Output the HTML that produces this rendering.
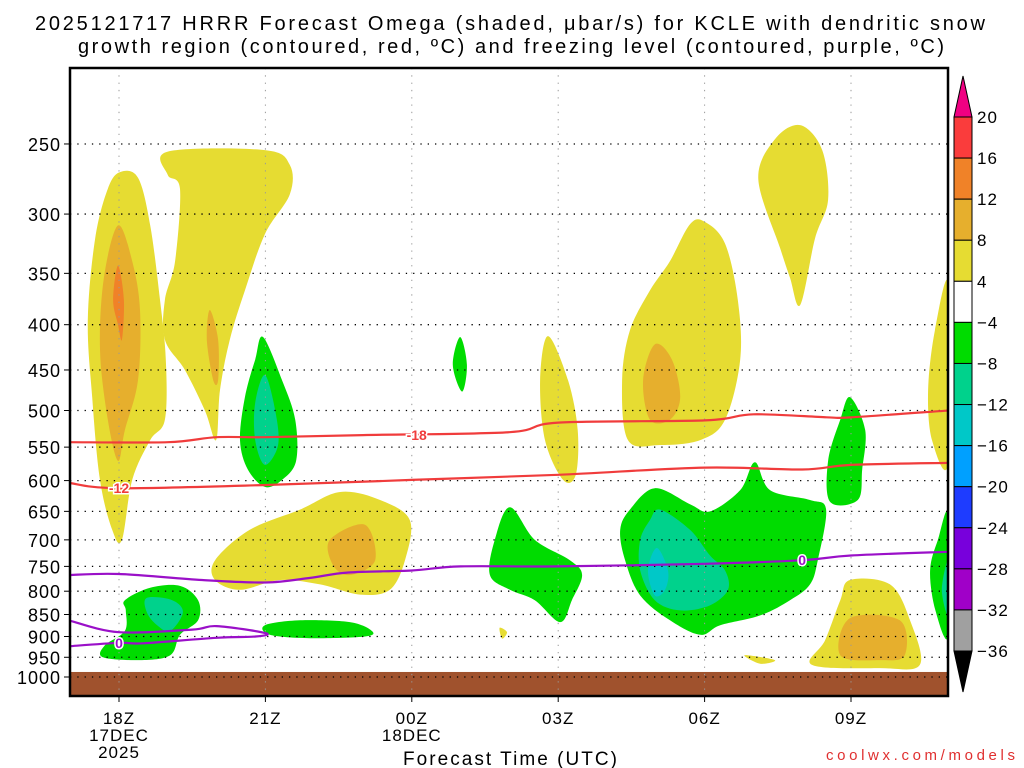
<!DOCTYPE html>
<html><head><meta charset="utf-8"><style>
html,body{margin:0;padding:0;background:#fff;}
svg{display:block;font-family:"Liberation Sans","DejaVu Sans",sans-serif;}
</style></head><body>
<svg id="chart" width="1024" height="768" viewBox="0 0 1024 768" xmlns="http://www.w3.org/2000/svg">
<g font-size="20" fill="#000" text-anchor="middle">
<text x="510" y="30" textLength="950" lengthAdjust="spacing">2025121717 HRRR Forecast Omega (shaded, μbar/s) for KCLE with dendritic snow</text>
<text x="511" y="53" textLength="866" lengthAdjust="spacing">growth region (contoured, red, ºC) and freezing level (contoured, purple, ºC)</text>
</g>
<g id="plot"></g>
<g id="axes"></g>
<g id="cbar"></g>
<text x="510" y="765" text-anchor="middle" font-size="19" textLength="214" lengthAdjust="spacing">Forecast Time (UTC)</text>
<text x="1015" y="760" text-anchor="end" font-size="15" fill="#e03030" textLength="189" lengthAdjust="spacing">coolwx.com/models</text>
</svg>
<script>
// ---- data ----
const pressureTicks = [250,300,350,400,450,500,550,600,650,700,750,800,850,900,950,1000];
const timeTickHours = [1,4,7,10,13,16];
const timeTickLabels = [["18Z","17DEC","2025"],["21Z"],["00Z","18DEC"],["03Z"],["06Z"],["09Z"]];
const groundPressure = 987;
const fillColors = {y:"#e6dc32",g:"#e6af2d",o:"#f08228",gr:"#00dc00",tg:"#00d28c",cy:"#00c8c8"};
const omegaRegions = [
 ["y",[[1.02,269],[1.39,273],[1.64,309],[1.84,375],[1.96,438],[1.94,512],[1.64,540],[1.27,599],[1.06,700],[0.86,682],[0.61,599],[0.45,483],[0.36,395],[0.51,320],[0.77,281]]],
 ["y",[[2.0,255],[3.99,254],[4.5,264],[4.5,285],[3.99,316],[3.58,366],[3.27,416],[3.07,474],[2.99,540],[2.76,500],[2.35,450],[1.94,416],[1.94,375],[2.15,339],[2.25,281],[2.0,271]]],
 ["g",[[0.98,309],[1.27,339],[1.43,385],[1.39,462],[1.12,526],[0.98,570],[0.77,512],[0.61,427],[0.69,354]]],
 ["o",[[0.98,343],[1.1,375],[1.06,416],[0.98,400],[0.88,375]]],
 ["g",[[2.86,385],[3.03,416],[3.03,462],[2.93,462],[2.8,416]]],
 ["y",[[2.97,738],[3.68,682],[4.71,647],[5.53,618],[6.35,631],[6.96,665],[6.86,738],[6.55,797],[5.94,807],[5.12,786],[4.30,777],[3.48,797],[2.97,777]]],
 ["g",[[5.32,700],[6.04,673],[6.25,738],[5.73,767],[5.39,748]]],
 ["gr",[[3.99,874],[4.71,863],[5.73,867],[6.18,887],[6.04,900],[4.91,904],[4.09,896]]],
 ["gr",[[1.12,819],[1.64,793],[2.25,789],[2.62,819],[2.62,863],[2.25,896],[2.05,945],[1.43,957],[0.67,950],[0.71,921],[1.12,887],[1.14,841]]],
 ["tg",[[1.57,814],[2.09,819],[2.31,845],[2.05,887],[1.78,874],[1.57,845]]],
 ["gr",[[3.95,413],[4.34,462],[4.61,512],[4.63,570],[4.34,599],[3.99,610],[3.64,583],[3.48,540],[3.58,483],[3.79,438]]],
 ["tg",[[3.99,456],[4.2,500],[4.26,547],[3.99,576],[3.79,540],[3.79,490]]],
 ["gr",[[7.99,413],[8.13,444],[8.03,476],[7.84,444]]],
 ["y",[[9.79,412],[10.2,462],[10.4,526],[10.36,591],[10.1,599],[9.73,540],[9.63,462]]],
 ["gr",[[9.01,643],[9.52,700],[10.24,738],[10.49,767],[10.28,819],[10.04,867],[9.52,819],[9.01,797],[8.6,767],[8.7,700]]],
 ["y",[[13.0,306],[13.42,324],[13.68,375],[13.73,438],[13.42,512],[12.91,540],[12.09,547],[11.43,540],[11.31,462],[11.47,406],[11.88,366],[12.29,339],[12.7,308]]],
 ["g",[[11.98,421],[12.33,438],[12.5,483],[12.29,512],[11.88,512],[11.74,462]]],
 ["y",[[14.96,238],[15.41,254],[15.53,289],[15.26,320],[14.96,380],[14.75,354],[14.55,328],[14.1,274],[14.44,247]]],
 ["gr",[[11.98,612],[12.7,638],[13.11,650],[13.73,615],[14.03,572],[14.34,615],[15.16,631],[15.49,647],[15.32,738],[15.16,786],[14.75,819],[14.14,852],[13.32,874],[12.91,896],[12.29,863],[11.68,809],[11.37,738],[11.27,682],[11.47,647]]],
 ["tg",[[12.09,647],[12.7,682],[13.11,729],[13.42,758],[13.48,797],[13.11,830],[12.5,841],[11.98,819],[11.68,758],[11.68,700],[11.88,665]]],
 ["cy",[[12.02,715],[12.25,758],[12.19,797],[11.98,809],[11.84,758]]],
 ["gr",[[15.98,483],[16.29,526],[16.23,583],[16.14,631],[15.57,634],[15.53,570],[15.78,512]]],
 ["y",[[15.98,777],[16.8,786],[17.21,863],[17.41,969],[16.59,977],[15.2,969],[15.47,909],[15.78,819]]],
 ["g",[[15.98,858],[17.0,863],[17.1,945],[16.59,957],[15.78,945]]],
 ["y",[[13.82,945],[14.44,957],[14.14,966]]],
 ["y",[[8.8,880],[8.95,890],[8.85,905]]],
 ["y",[[18,361],[18,570],[17.66,540],[17.58,474],[17.72,406]]],
 ["gr",[[18,656],[18,896],[17.73,841],[17.62,758],[17.78,700]]],
 ["tg",[[18,738],[18,852],[17.86,797]]]
];
const dgzMinus18 = [[0,543],[2,543],[3,536],[4,536],[6,533],[9,529],[10,516],[13,513],[14,505],[15.5,509],[16,509],[18,500]];
const dgzMinus12 = [[0,604],[1,612],[4,607],[7,599],[10,591],[13,580],[15,583],[16,576],[18,573]];
const freezeMain = [[0,767],[1,765],[2.7,777],[4,782],[4.9,773],[5.7,762],[7,758],[8,750],[10,750],[13,745],[15,738],[16,729],[18,722]];
const freezeLoop = [[0,864],[1,890],[2.5,884],[3,876],[4,892],[3.8,900],[3,903],[1.5,916],[1,915],[0,923]];
const cbarLabels = ["20","16","12","8","4","−4","−8","−12","−16","−20","−24","−28","−32","−36"];
const cbarColors = ["#fa3c3c","#f08228","#e6af2d","#e6dc32","#ffffff","#00dc00","#00d28c","#00c8c8","#00a0ff","#1e3cff","#7800dc","#a000c8","#a0a0a0"];

// ---- scales ----
const X0=70,X1=948,Y0=68,Y1=696;
const xs = h => 119 + (h-1)*48.8;
const ys = p => 677 - Math.log(1000/p)*384.5;
const NS="http://www.w3.org/2000/svg";
function mk(tag, attrs, parent){const e=document.createElementNS(NS,tag);for(const k in attrs)e.setAttribute(k,attrs[k]);parent.appendChild(e);return e;}
const plot=document.getElementById('plot'), axes=document.getElementById('axes'), cbar=document.getElementById('cbar');
const cp=mk('clipPath',{id:'clip'},plot);
mk('rect',{x:X0,y:Y0,width:X1-X0,height:Y1-Y0},cp);
const inner=mk('g',{'clip-path':'url(#clip)'},plot);

function pathFrom(pts, closed){
  const P=pts.map(d=>[xs(d[0]),ys(d[1])]);
  let s='M'+P[0][0].toFixed(1)+','+P[0][1].toFixed(1);
  const n=P.length;
  const last = closed? n : n-1;
  for(let i=0;i<last;i++){
    const p0=P[closed?(i-1+n)%n:Math.max(i-1,0)],p1=P[i],p2=P[(i+1)%n],p3=P[closed?(i+2)%n:Math.min(i+2,n-1)];
    const c1=[p1[0]+(p2[0]-p0[0])/6,p1[1]+(p2[1]-p0[1])/6],c2=[p2[0]-(p3[0]-p1[0])/6,p2[1]-(p3[1]-p1[1])/6];
    s+='C'+c1.map(v=>v.toFixed(1))+' '+c2.map(v=>v.toFixed(1))+' '+p2.map(v=>v.toFixed(1));
  }
  return s+(closed?'Z':'');
}
omegaRegions.forEach((r,i)=>{
  const el=mk('path',{d:pathFrom(r[1],true),fill:fillColors[r[0]]},inner);
  
  
});
const gr=mk('rect',{x:X0,y:ys(groundPressure),width:X1-X0,height:Y1-ys(groundPressure),fill:'#a0522d'},inner);


pressureTicks.forEach(p=>{
  const l=mk('line',{x1:X0,x2:X1,y1:ys(p),y2:ys(p),stroke:'#000','stroke-width':1.3,'stroke-dasharray':'1.3 6'},inner);
  
  
});
timeTickHours.forEach(h=>{
  const l=mk('line',{x1:xs(h),x2:xs(h),y1:Y0,y2:Y1,stroke:'#999','stroke-width':1,'stroke-dasharray':'1.3 6'},inner);
  
  
});
function contour(data,color,name){
  const el=mk('path',{d:pathFrom(data,false),fill:'none',stroke:color,'stroke-width':2.2},inner);
  
  
}
contour(dgzMinus18,'#f03c3c','dgz-minus18-contour');
contour(dgzMinus12,'#f03c3c','dgz-minus12-contour');
contour(freezeMain,'#9a10c8','freezing-level-contour');
contour(freezeLoop,'#9a10c8','freezing-level-loop');
function clabel(txt,h,p,color){
  const t=mk('text',{x:xs(h),y:ys(p)+5,'text-anchor':'middle','font-size':14,'font-weight':'bold',fill:color,stroke:'#fff','stroke-width':3,'paint-order':'stroke'},inner);
  t.textContent=txt;
  
  
}
clabel('-18',7.1,dgzMinus18[4][1],'#f03c3c');
clabel('-12',1,dgzMinus12[1][1],'#f03c3c');
clabel('0',15,freezeMain[10][1],'#9a10c8');
clabel('0',1,freezeLoop[8][1],'#9a10c8');
const fr=mk('rect',{x:X0,y:Y0,width:X1-X0,height:Y1-Y0,fill:'none',stroke:'#000','stroke-width':2.5},axes);


pressureTicks.forEach(p=>{
  mk('line',{x1:X0-6,x2:X0,y1:ys(p),y2:ys(p),stroke:'#000','stroke-width':1},axes);
  const t=mk('text',{x:61,y:ys(p)+7,'text-anchor':'end','font-size':18,'letter-spacing':1},axes);
  t.textContent=p;
  
  
});
timeTickHours.forEach((h,i)=>{
  mk('line',{x1:xs(h),x2:xs(h),y1:Y1,y2:Y1+6,stroke:'#000'},axes);
  timeTickLabels[i].forEach((s,j)=>{
    const t=mk('text',{x:xs(h),y:724+j*17,'text-anchor':'middle','font-size':17,'letter-spacing':1},axes);
    t.textContent=s;
    
    
  });
});
const CX=954,CW=18,CT=117,CB=651,step=(CB-CT)/cbarColors.length;
const up=mk('path',{d:`M${CX},${CT} L${CX+CW/2},76 L${CX+CW},${CT}Z`,fill:'#f00082',stroke:'#000'},cbar);


cbarColors.forEach((c,i)=>{
  const r=mk('rect',{x:CX,y:CT+i*step,width:CW,height:step,fill:c,stroke:'#000','stroke-width':1},cbar);
  
  
});
const dn=mk('path',{d:`M${CX},${CB} L${CX+CW/2},692 L${CX+CW},${CB}Z`,fill:'#000',stroke:'#000'},cbar);


cbarLabels.forEach((s,i)=>{
  const t=mk('text',{x:977,y:CT+i*step+6,'font-size':17,'letter-spacing':1},cbar);
  t.textContent=s;
  
  
});
</script>
</body></html>
